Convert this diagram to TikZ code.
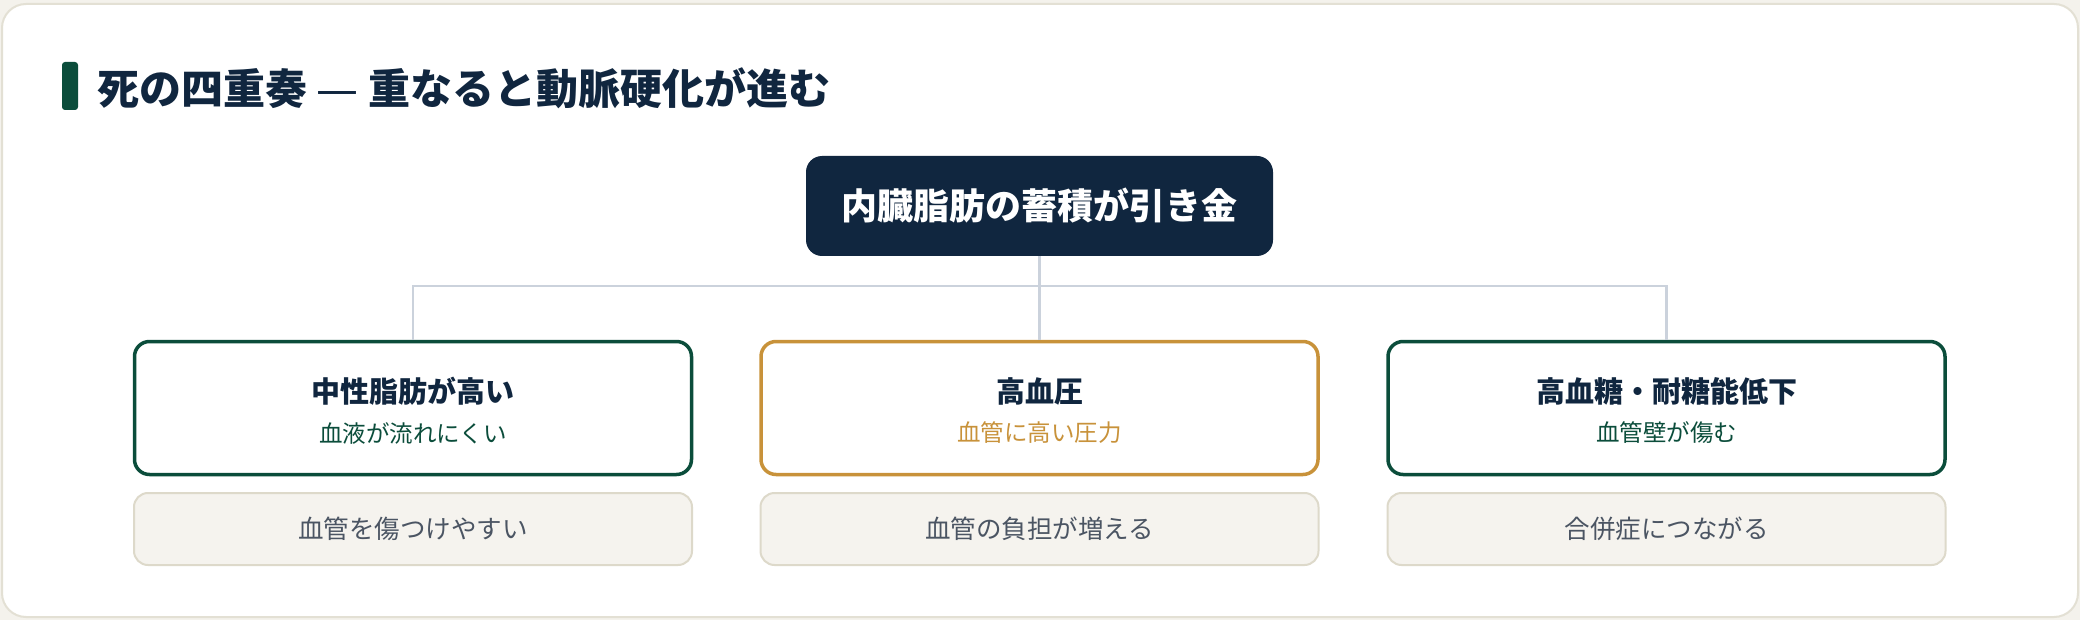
\documentclass[tikz,border=0pt]{standalone}
\usepackage{fontspec}
\setmainfont{Noto Sans CJK JP}
\newfontfamily\dashfont{DejaVu Sans}
\usetikzlibrary{positioning}
\definecolor{pagebg}{HTML}{F4F2EC}
\definecolor{cardline}{HTML}{E3E0D4}
\definecolor{navy}{HTML}{10263F}
\definecolor{deepgreen}{HTML}{0B4D3B}
\definecolor{gold}{HTML}{C8923A}
\definecolor{notefill}{HTML}{F5F3EE}
\definecolor{noteline}{HTML}{DDD9CA}
\definecolor{notetext}{HTML}{4B5563}
\definecolor{linkgray}{HTML}{CBD2DC}

\begin{document}
\begin{tikzpicture}[
    x=1pt, y=-1pt,
    riskbox/.style={draw, line width=3.5pt, rounded corners=15pt, fill=white, minimum width=557pt, minimum height=133pt},
    notebox/.style={draw=noteline, line width=2pt, rounded corners=14pt, fill=notefill, minimum width=558pt, minimum height=72pt, text=notetext, font=\fontsize{25.5}{30}\selectfont},
    headtext/.style={text=navy, font=\bfseries\fontsize{29}{34}\selectfont},
    subtext/.style={font=\fontsize{23.5}{28}\selectfont},
    link/.style={draw=linkgray, line width=2.5pt}
]
    % Card
    \fill[pagebg] (0,0) rectangle (2080,620);
    \draw[cardline, line width=2pt, fill=white, rounded corners=24pt] (2,4) rectangle (2078,617);
    \useasboundingbox (0,0) rectangle (2080,620);

    % Heading
    \node[fill=deepgreen, rounded corners=3pt, minimum width=16pt, minimum height=48pt, inner sep=0pt] (bar) at (70,86) {};
    \node[anchor=west, inner sep=0pt, text=navy, font=\bfseries\fontsize{42}{50}\selectfont] (title) at (97,88) {死の四重奏 {\dashfont\mdseries —} 重なると動脈硬化が進む};

    % Trigger
    \node[fill=navy, text=white, rounded corners=16pt, minimum width=467pt, minimum height=100pt, font=\bfseries\fontsize{36}{44}\selectfont] (trigger) at (1039.5,206) {内臓脂肪の蓄積が引き金};

    % Risk factors
    \node[riskbox, draw=deepgreen] (fat) at (413,408) {};
    \node[riskbox, draw=gold] (pressure) at (1039.5,408) {};
    \node[riskbox, draw=deepgreen] (sugar) at (1666.5,408) {};

    \node[headtext] (fathead) at (413,391) {中性脂肪が高い};
    \node[subtext, text=deepgreen] (fatsub) at (413,433) {血液が流れにくい};
    \node[headtext] (pressurehead) at (1039.5,391) {高血圧};
    \node[subtext, text=gold] (pressuresub) at (1039.5,433) {血管に高い圧力};
    \node[headtext] (sugarhead) at (1666.5,391) {高血糖・耐糖能低下};
    \node[subtext, text=deepgreen] (sugarsub) at (1666.5,433) {血管壁が傷む};

    % Consequences
    \node[notebox] (fatnote) at (413,529) {血管を傷つけやすい};
    \node[notebox] (pressurenote) at (1039.5,529) {血管の負担が増える};
    \node[notebox] (sugarnote) at (1666.5,529) {合併症につながる};

    % Links
    \coordinate (bus) at (1039.5,286);
    \draw[link] (trigger.south) -- (pressure.north);
    \draw[link] (fat.north) |- (bus) -| (sugar.north);
\end{tikzpicture}
\end{document}
